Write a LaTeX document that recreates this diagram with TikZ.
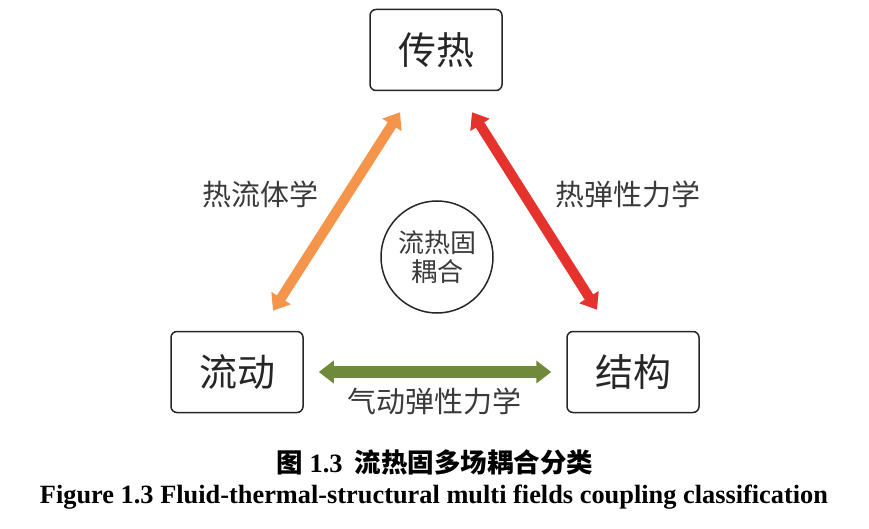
\documentclass[tikz,border=0pt]{standalone}
\usepackage{fontspec}
\setmainfont{Liberation Serif}
\newfontfamily\cjk{Noto Sans CJK SC}
\usetikzlibrary{arrows.meta}
\usetikzlibrary{positioning}

\definecolor{heatorange}{HTML}{F5954B}
\definecolor{heatred}{HTML}{E5322D}
\definecolor{aerogreen}{HTML}{6F8A3A}
\definecolor{labelgray}{HTML}{3A3A3A}

\begin{document}
\begin{tikzpicture}[x=1pt,y=-1pt,
    field/.style={draw=black!85,line width=1.5pt,rounded corners=6pt,
      minimum width=132pt,minimum height=81pt,font=\cjk\fontsize{38}{40}\selectfont,text=black!85},
    link/.style={line width=10pt,{Triangle[length=15pt,width=22pt]}-{Triangle[length=15pt,width=22pt]}},
    linklabel/.style={font=\cjk\fontsize{29}{31}\selectfont,text=labelgray}]
    \useasboundingbox (0,0) rectangle (869,529);

    \node[field] (heat) at (436,50) {传热};
    \node[field] (flow) at (237,372) {流动};
    \node[field] (struct) at (633,372) {结构};
    \node[circle,draw=black!85,line width=1.5pt,minimum size=112pt,align=center,
      font=\cjk\fontsize{26}{29}\selectfont,text=labelgray] (core) at (437,257) {流热固\\耦合};

    \draw[link,heatorange] ([xshift=36pt,yshift=20pt]flow.north) -- ([xshift=-36pt,yshift=-21pt]heat.south);
    \draw[link,heatred] ([xshift=36pt,yshift=-21pt]heat.south) -- ([xshift=-36pt,yshift=21pt]struct.north);
    \draw[link,aerogreen,line width=12pt] ([xshift=15pt]flow.east) -- ([xshift=-15pt]struct.west);

    \node[linklabel] (tfluid) at (260,194) {热流体学};
    \node[linklabel] (telastic) at (628,194) {热弹性力学};
    \node[linklabel] (aeroelastic) at (434,401) {气动弹性力学};

    % captions
    \node (capcn) at (435,462) {\resizebox{316pt}{!}{\bfseries\cjk 图 \textrm{1.3}\ \ 流热固多场耦合分类}};
    \node (capen) at (434,497) {\resizebox{788pt}{!}{\bfseries Figure 1.3 Fluid-thermal-structural multi fields coupling classification}};
\end{tikzpicture}
\end{document}
